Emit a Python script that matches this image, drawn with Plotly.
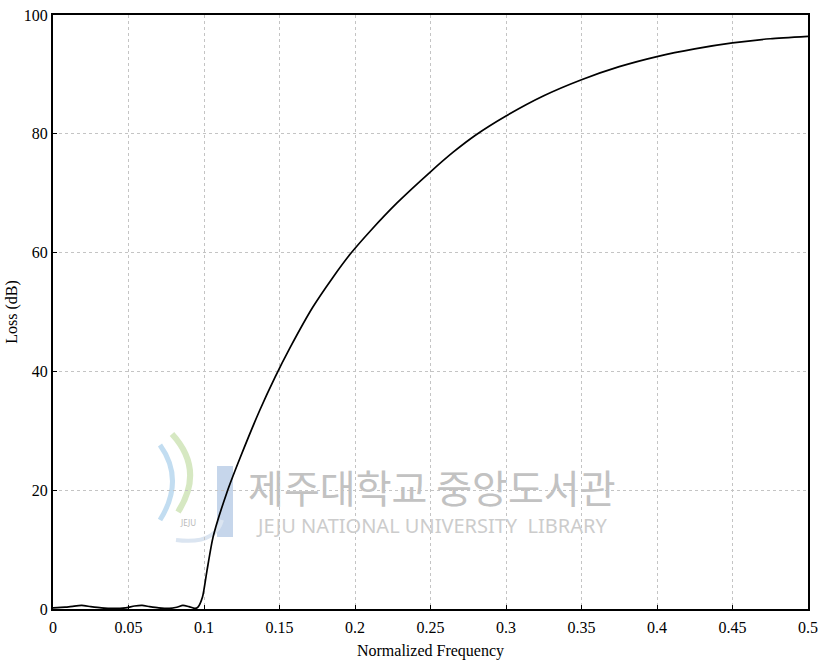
import plotly.graph_objects as go

freq = [0.0, 0.008, 0.014, 0.019, 0.025, 0.032, 0.04, 0.048, 0.054, 0.059, 0.064, 0.07, 0.077,
        0.082, 0.086, 0.09, 0.094, 0.096, 0.099, 0.102, 0.106, 0.115, 0.124, 0.137, 0.147, 0.157,
        0.172, 0.185, 0.197, 0.21, 0.228, 0.25, 0.265, 0.28, 0.3, 0.325, 0.35, 0.375, 0.4,
        0.425, 0.45, 0.475, 0.5]
loss = [0.2, 0.3, 0.5, 0.6, 0.4, 0.2, 0.1, 0.2, 0.5, 0.6, 0.4, 0.2, 0.1,
        0.3, 0.6, 0.4, 0.1, 0.3, 2.0, 6.5, 12.1, 19.5, 25.5, 33.5, 39.0, 44.0,
        50.8, 55.7, 59.8, 63.6, 68.4, 73.6, 76.9, 79.8, 83.0, 86.4, 89.1, 91.3, 93.0,
        94.3, 95.3, 96.0, 96.4]

x_ticks = [0, 0.05, 0.1, 0.15, 0.2, 0.25, 0.3, 0.35, 0.4, 0.45, 0.5]
x_tick_labels = ["0", "0.05", "0.1", "0.15", "0.2", "0.25", "0.3", "0.35", "0.4", "0.45", "0.5"]
y_ticks = [0, 20, 40, 60, 80, 100]
y_tick_labels = ["0", "20", "40", "60", "80", "100"]

wm_korean = "제주대학교 중앙도서관"
wm_english = "JEJU NATIONAL UNIVERSITY  LIBRARY"

font_family = "Liberation Serif, Times New Roman, serif"

W, H = 821, 670
L, R, T, B = 53, 13, 15, 61
X0, X1, Y0, Y1 = 0.0, 0.5, 0.0, 100.0


def px(xp, yp):
    """pixel position on page -> data coords (for the scanned watermark logo only)"""
    fx = X0 + (xp - L) / (W - L - R) * (X1 - X0)
    fy = Y1 - (yp - T) / (H - T - B) * (Y1 - Y0)
    return fx, fy


fig = go.Figure()
fig.add_trace(go.Scatter(x=freq, y=loss, mode="lines",
                         line=dict(color="black", width=1.7, shape="spline", smoothing=0.6),
                         showlegend=False, hoverinfo="skip"))

axis_common = dict(showline=True, linecolor="black", linewidth=2, mirror=True,
                   ticks="inside", ticklen=4, tickcolor="black",
                   showgrid=True, gridcolor="#c4c4c4", gridwidth=1, griddash="dot",
                   zeroline=False, automargin=False,
                   tickfont=dict(family=font_family, size=16, color="black"))

fig.update_xaxes(range=[X0, X1], tickvals=x_ticks, ticktext=x_tick_labels, ticklabelstandoff=3,
                 title=dict(text="Normalized Frequency", font=dict(family=font_family, size=16, color="black"),
                            standoff=10),
                 **axis_common)
fig.update_yaxes(range=[Y0, Y1], tickvals=y_ticks, ticktext=y_tick_labels, ticklabelstandoff=0,
                 title=dict(text="Loss (dB)", font=dict(family=font_family, size=16, color="black"),
                            standoff=2),
                 **axis_common)

# library watermark present on the scanned page
cx, cy = px(432, 486)
fig.add_annotation(text=wm_korean, x=cx, y=cy, xref="x", yref="y",
                   showarrow=False, font=dict(family="Noto Sans CJK KR", size=39, color="#c2c2c2"))
cx, cy = px(432, 525)
fig.add_annotation(text=wm_english, x=cx, y=cy, xref="x", yref="y",
                   showarrow=False, font=dict(family="Noto Sans", size=20, color="#cccccc"))

# watermark logo (bar + swirls)
bx0, by0 = px(217, 537)
bx1, by1 = px(233, 466)
fig.add_shape(type="rect", x0=bx0, y0=by0, x1=bx1, y1=by1, xref="x", yref="y",
              fillcolor="#c6d6eb", line=dict(width=0), layer="below")


def arc_path(p0, p1, p2):
    a, b, c = px(*p0), px(*p1), px(*p2)
    return f"M {a[0]},{a[1]} Q {b[0]},{b[1]} {c[0]},{c[1]}"


fig.add_shape(type="path", path=arc_path((172, 434), (205, 470), (178, 512)), xref="x", yref="y",
              line=dict(color="#d6e8c2", width=6), layer="below")
fig.add_shape(type="path", path=arc_path((160, 445), (185, 480), (160, 520)), xref="x", yref="y",
              line=dict(color="#c2ddf1", width=5), layer="below")
fig.add_shape(type="path", path=arc_path((176, 540), (215, 545), (222, 520)), xref="x", yref="y",
              line=dict(color="#dbe5f1", width=4), layer="below")
lx, ly = px(188, 522)
fig.add_annotation(text="JEJU", x=lx, y=ly, xref="x", yref="y", showarrow=False,
                   font=dict(family="Noto Sans", size=8, color="#b8b8b8"))

fig.update_layout(width=W, height=H,
                  margin=dict(l=L, r=R, t=T, b=B),
                  plot_bgcolor="white", paper_bgcolor="white",
                  font=dict(family=font_family, color="black"))

fig.write_html("out.html")
